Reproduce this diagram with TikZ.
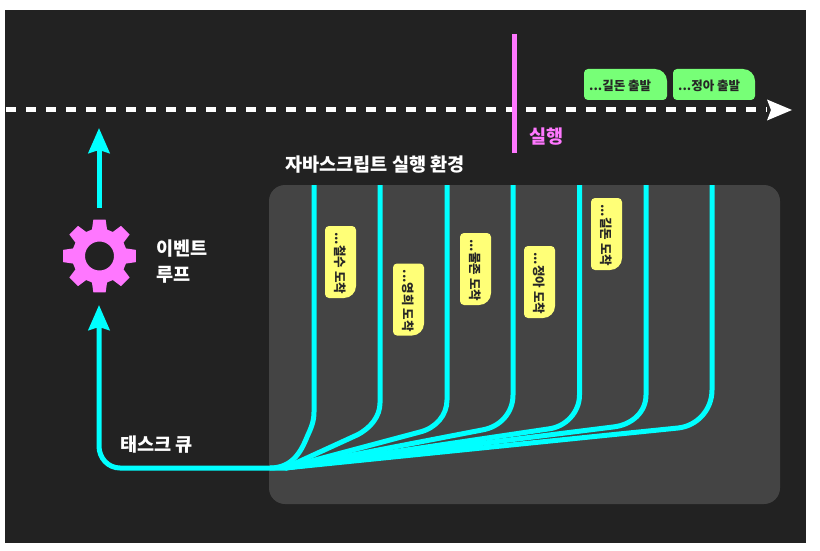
\documentclass[tikz,border=0pt]{standalone}
\usepackage{fontspec}
\setmainfont{Noto Sans CJK KR}
\usetikzlibrary{arrows.meta}
\definecolor{bgdark}{HTML}{222222}
\definecolor{boxgrey}{HTML}{444444}
\definecolor{flow}{HTML}{00FFFF}
\definecolor{pinkish}{HTML}{FF77FF}
\definecolor{tagyellow}{HTML}{FFFF77}
\definecolor{taggreen}{HTML}{77FF77}
\tikzset{
  flowline/.style={draw=flow,line width=5pt,line join=round},
  flowarrow/.style={flowline,-{Stealth[length=25pt,width=21pt,inset=3pt]}},
  lbl/.style={text=white,font=\fontsize{18.6}{22}\selectfont\bfseries,inner sep=0pt,anchor=west},
  tagtext/.style={text=black!85,font=\fontsize{12.5}{14}\selectfont\bfseries,inner sep=0pt,anchor=west},
}
\newcommand{\ytag}[4]{% name, left x, top y, text
  \fill[tagyellow] (#2+4,#3) -- (#2+27,#3) arc[start angle=-90,end angle=0,radius=4] -- (#2+31,#3+60)
    arc[start angle=0,end angle=90,radius=12] -- (#2+4,#3+72) arc[start angle=90,end angle=180,radius=4]
    -- (#2,#3+4) arc[start angle=180,end angle=270,radius=4] -- cycle;
  \node[tagtext,rotate=-90] (#1) at (#2+15,#3+6) {#4};
}
\newcommand{\gtag}[5]{% name, left x, right x, top y, text
  \fill[taggreen] (#2+4,#4) -- (#3-12,#4) arc[start angle=-90,end angle=0,radius=12] -- (#3,#4+27)
    arc[start angle=0,end angle=90,radius=4] -- (#2+4,#4+31) arc[start angle=90,end angle=180,radius=4]
    -- (#2,#4+4) arc[start angle=180,end angle=270,radius=4] -- cycle;
  \node[tagtext] (#1) at (#2+5,#4+16.5) {#5};
}
\begin{document}
\begin{tikzpicture}[x=1pt,y=-1pt]
\useasboundingbox (0,0) rectangle (820,551);
\fill[white] (0,0) rectangle (820,551);
\fill[bgdark] (5,10) rectangle (806,543);
\fill[boxgrey,rounded corners=16pt] (269,185) rectangle (780,504);
% coordinates
\coordinate (hub) at (285,468);
\coordinate (loopin) at (99,305);
\coordinate (loopout) at (99,208);
\coordinate (looptop) at (99,128);
\coordinate (ts) at (6,110);
\coordinate (te) at (792,110);
\coordinate (pa) at (514,34);
\coordinate (pb) at (514,153);
% timeline
\draw[white,line width=5pt,dash pattern=on 10pt off 10pt] (ts) -- (767,110);
\fill[white] (te) -- (767,99.5) -- (771,110) -- (767,120.5) -- cycle;
\draw[pinkish,line width=5pt] (pa) -- (pb);
% flows
\draw[flowline] (314,185) -- (314,412) .. controls (314,422) and (311,428) .. (307,437)
  .. controls (301,452) and (292,468) .. (270,468);
\draw[flowline] (380,185) -- (380,403) .. controls (380,416) and (371,428) .. (357,435) -- (hub);
\draw[flowline] (447,185) -- (447,400) .. controls (447,415) and (436,428) .. (420,432) -- (hub);
\draw[flowline] (513,185) -- (513,395) .. controls (513,413) and (500,427) .. (482,430) -- (hub);
\draw[flowline] (579.5,185) -- (579.5,395) .. controls (579.5,412) and (566,427) .. (548,429) -- (hub);
\draw[flowline] (646,185) -- (646,395) .. controls (646,412) and (632,425) .. (613,427) -- (hub);
\draw[flowline] (712,185) -- (712,390) .. controls (712,410) and (697,426) .. (678,428) -- (hub);
\draw[flowarrow] (hub) -- (120,468) .. controls (108,468) and (99,458) .. (99,446) -- (loopin);
\draw[flowarrow] (loopout) -- (looptop);
% gear
\fill[pinkish,even odd rule]
  ({99.5+37*cos(-9.5)},{256+37*sin(-9.5)})
  \foreach \a in {0,45,...,315}{
    -- ({99.5+37*cos(\a-9.5)},{256+37*sin(\a-9.5)})
    -- ({99.5+37*cos(\a+9.5)},{256+37*sin(\a+9.5)})
    -- ({99.5+27.5*cos(\a+16)},{256+27.5*sin(\a+16)})
    -- ({99.5+27.5*cos(\a+29)},{256+27.5*sin(\a+29)})
  } -- cycle
  (99.5,256) circle[radius=14.5];
% labels
\node[lbl,text=pinkish] (run) at (529,137) {실행};
\node[lbl] (env) at (285,165) {자바스크립트 실행 환경};
\node[lbl] (ev1) at (156,249) {이벤트};
\node[lbl] (ev2) at (156,275) {루프};
\node[lbl] (tq) at (120,445) {태스크 큐};
% tags
\gtag{g1}{584}{667}{69}{...길돈 출발}
\gtag{g2}{673}{755}{69}{...정아 출발}
\ytag{y1}{325}{226}{...철수 도착}
\ytag{y2}{393}{263.5}{...영희 도착}
\ytag{y3}{460}{233}{...물존 도착}
\ytag{y4}{524}{246}{...정아 도착}
\ytag{y5}{591}{198}{...길돈 도착}
\end{tikzpicture}
\end{document}
